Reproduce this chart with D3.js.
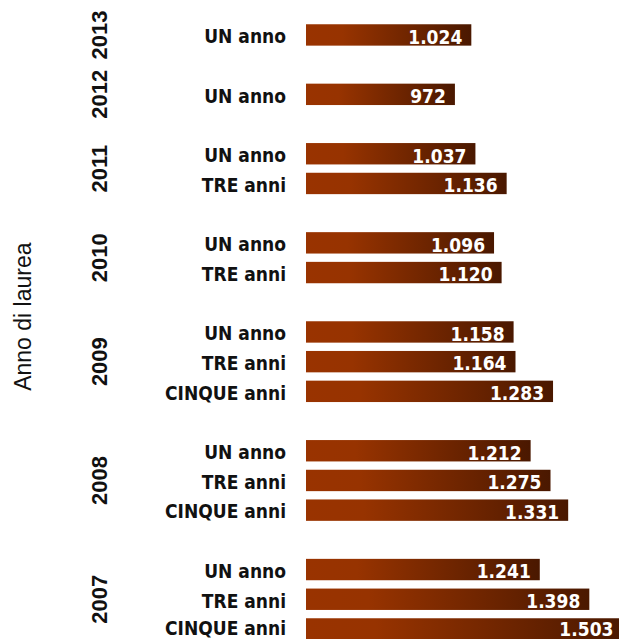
<!DOCTYPE html>
<html><head><meta charset="utf-8">
<script src="https://cdn.jsdelivr.net/npm/d3@7"></script>
<style>
html,body{margin:0;padding:0;background:#fff;}
svg{display:block;}
.cat{font-family:"DejaVu Sans Condensed","DejaVu Sans",sans-serif;font-stretch:condensed;font-weight:bold;font-size:19px;fill:#111;}
.val{font-family:"DejaVu Sans Condensed","DejaVu Sans",sans-serif;font-stretch:condensed;font-weight:bold;font-size:19px;fill:#fff;}
.year{font-family:"Liberation Sans",Arial,sans-serif;font-weight:bold;font-size:22px;fill:#111;}
.title{font-family:"Liberation Sans",Arial,sans-serif;font-size:23px;fill:#111;}
</style></head>
<body>
<script>
const years = ["2013","2012","2011","2010","2009","2008","2007"];
const seriesNames = ["UN anno","TRE anni","CINQUE anni"];
const unAnno = [1024, 972, 1037, 1096, 1158, 1212, 1241];
const treAnni = [null, null, 1136, 1120, 1164, 1275, 1398];
const cinqueAnni = [null, null, null, null, 1283, 1331, 1503];
const axisTitle = "Anno di laurea";

const W = 619, H = 639;
const svg = d3.select("body").append("svg").attr("width", W).attr("height", H);

const seriesVals = [unAnno, treAnni, cinqueAnni];
// build rows: bars per year, with a spacer row between year groups
const rows = [];
const groups = [];
years.forEach((yr, i) => {
  const g = {year: yr, rows: []};
  seriesVals.forEach((vals, s) => {
    if (vals[i] != null) {
      const r = {key: yr + "|" + s, year: yr, label: seriesNames[s], value: vals[i]};
      rows.push(r); g.rows.push(r);
    }
  });
  groups.push(g);
  if (i < years.length - 1) rows.push({key: "gap" + i, gap: true});
});

const y = d3.scaleBand().domain(rows.map(r => r.key)).range([20.1, 643.8])
  .paddingInner(0.28).paddingOuter(0.14);
const x = d3.scaleLinear().domain([500, 1500]).range([306, 621.5]);

const itLocale = d3.formatLocale({decimal: ",", thousands: ".", grouping: [3], currency: ["€", ""]});
const fmt = itLocale.format(",d");

const defs = svg.append("defs");
const grad = defs.append("linearGradient").attr("id", "barGrad")
  .attr("x1", "0%").attr("x2", "100%").attr("y1", "0%").attr("y2", "0%");
grad.append("stop").attr("offset", "0%").attr("stop-color", "#993300");
grad.append("stop").attr("offset", "22%").attr("stop-color", "#973300");
grad.append("stop").attr("offset", "100%").attr("stop-color", "#4a1800");

const data = rows.filter(r => !r.gap);
const baseY = d => Math.min(y(d.key) + 19, H - 4);

svg.selectAll("rect.bar").data(data).join("rect")
  .attr("class", "bar")
  .attr("x", x(500))
  .attr("y", d => y(d.key))
  .attr("width", d => x(d.value) - x(500))
  .attr("height", y.bandwidth())
  .attr("fill", "url(#barGrad)");

svg.selectAll("text.val").data(data).join("text")
  .attr("class", "val")
  .attr("x", d => x(d.value) - 9)
  .attr("y", d => baseY(d) + 0.5)
  .attr("text-anchor", "end")
  .text(d => fmt(d.value));

svg.selectAll("text.cat").data(data).join("text")
  .attr("class", "cat")
  .attr("x", x(500) - 20)
  .attr("y", d => baseY(d))
  .attr("text-anchor", "end")
  .text(d => d.label);

svg.selectAll("text.year").data(groups).join("text")
  .attr("class", "year")
  .attr("text-anchor", "middle")
  .attr("transform", g => {
    const top = y(g.rows[0].key);
    const bot = y(g.rows[g.rows.length - 1].key) + y.bandwidth();
    return `translate(107,${(top + bot) / 2}) rotate(-90)`;
  })
  .text(g => g.year);

svg.append("text").attr("class", "title")
  .attr("text-anchor", "middle")
  .attr("transform", "translate(31,316.7) rotate(-90)")
  .text(axisTitle);
</script>
</body></html>
